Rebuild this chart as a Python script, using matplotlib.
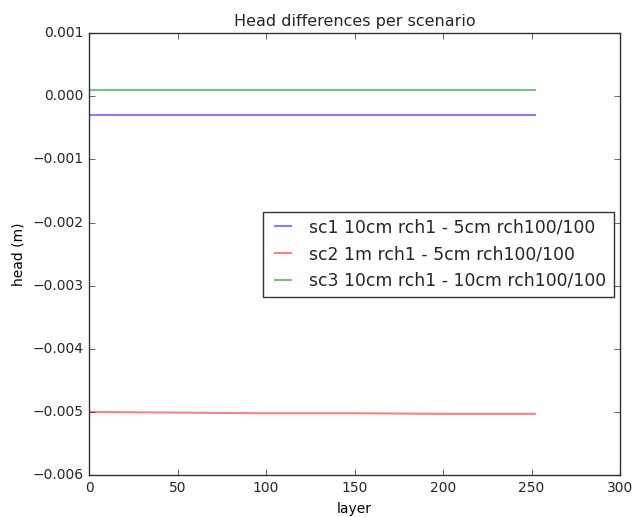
import numpy as np
import matplotlib
matplotlib.use("Agg")
import matplotlib.pyplot as plt
from matplotlib.ticker import FuncFormatter

plt.style.use("classic")

# head differences sampled along the layer index
layers = [0, 50, 100, 150, 200, 252]
sc1 = [-0.0003, -0.0003, -0.0003, -0.0003, -0.0003, -0.0003]
sc2 = [-0.00500, -0.00501, -0.00502, -0.00502, -0.00503, -0.00503]
sc3 = [0.0001, 0.0001, 0.0001, 0.0001, 0.0001, 0.0001]
labels = ["sc1 10cm rch1 - 5cm rch100/100",
          "sc2 1m rch1 - 5cm rch100/100",
          "sc3 10cm rch1 - 10cm rch100/100"]

text_col = "#262626"
plt.rcParams["text.color"] = text_col
plt.rcParams["xtick.color"] = text_col
plt.rcParams["ytick.color"] = text_col
plt.rcParams["axes.edgecolor"] = "#333333"

fig = plt.figure(figsize=(6.32, 5.17), dpi=100, facecolor="white")
ax = fig.add_axes([0.141, 0.081, 0.840, 0.855])

ax.plot(layers, sc1, color="b", alpha=0.5, lw=1.5, label=labels[0])
ax.plot(layers, sc2, color="r", alpha=0.5, lw=1.5, label=labels[1])
ax.plot(layers, sc3, color="g", alpha=0.5, lw=1.5, label=labels[2])

ax.set_xlim(0, 300)
ax.set_ylim(-0.006, 0.001)
ax.set_yticks(np.arange(-0.006, 0.0011, 0.001))
ax.yaxis.set_major_formatter(
    FuncFormatter(lambda v, pos: ("%.3f" % v).replace("-", "\u2212")))
ax.tick_params(labelsize=10)
ax.set_xlabel("layer", fontsize=10)
ax.set_ylabel("head (m)", fontsize=10)
ax.set_title("Head differences per scenario", fontsize=11.5)

leg = ax.legend(loc="center right", bbox_to_anchor=(1.004, 0.5), fontsize=12.4,
                handlelength=1.5)
leg.get_frame().set_edgecolor("#333333")

fig.savefig("out.png", dpi=100, facecolor="white")
